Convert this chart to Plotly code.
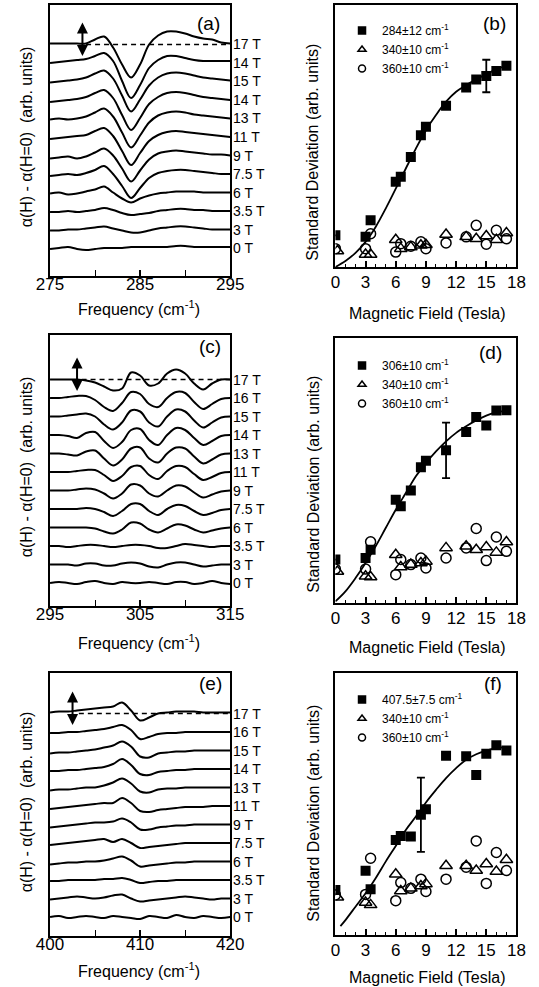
import plotly.graph_objects as go

W, H = 539, 987

# ---------------- spectra (left panels) ----------------
LABELS_A = ["17 T", "14 T", "15 T", "14 T", "13 T", "11 T", "9 T", "7.5 T", "6 T", "3.5 T", "3 T", "0 T"]
LABELS_CE = ["17 T", "16 T", "15 T", "14 T", "13 T", "11 T", "9 T", "7.5 T", "6 T", "3.5 T", "3 T", "0 T"]

FREQ_A = list(range(275, 296))
FREQ_C = list(range(295, 316))
FREQ_E = list(range(400, 421))

# deviations from each trace's own baseline (arb. units), top trace first
SPEC_A = [
    [1, 1, 1, 1, 1, 5, 8, -3, -20, -33, -20, 0, 9, 13, 13, 11, 8, 6, 5, 2, 1],
    [0, 1, 2, 3, 4, 7, 10, 2, -18, -35, -22, -5, 3, 7, 7, 5, 3, 2, 2, 2, 2],
    [-1, 0, 1, 2, 4, 8, 11, 3, -14, -30, -18, -4, 4, 8, 9, 8, 6, 4, 3, 2, 1],
    [-2, -1, 0, 1, 3, 7, 10, 2, -15, -30, -18, -4, 3, 7, 8, 7, 5, 3, 2, 1, 0],
    [-1, 0, -1, 0, 2, 6, 10, 2, -14, -29, -17, -4, 3, 6, 7, 6, 4, 3, 2, 1, 0],
    [-2, -1, 0, 1, 2, 6, 9, 1, -14, -28, -16, -4, 2, 5, 6, 5, 4, 3, 2, 1, 0],
    [-3, -2, -1, -3, -1, 3, 7, 0, -13, -26, -15, -4, 2, 4, 5, 4, 3, 2, 1, 1, 0],
    [-2, -1, 0, -1, 1, 4, 8, 0, -12, -24, -14, -4, 1, 3, 4, 4, 3, 2, 1, 0, 0],
    [-1, 0, -2, -1, 1, 3, 6, 0, -6, -10, -6, -3, -1, 0, 1, 1, 1, 0, 0, 0, 0],
    [-1, -1, 0, -1, 0, 1, 3, 1, -2, -4, -3, -2, 0, 1, 2, 2, 1, 1, 0, 0, 0],
    [-1, -1, 0, 0, 1, 2, 3, 1, -1, -3, -3, -1, 1, 2, 3, 3, 2, 1, 0, 0, 0],
    [-1, 0, 1, -1, -2, -1, 0, 0, 0, 1, 1, 1, 1, 1, 2, 2, 1, 1, 1, 1, 1],
]
SPEC_C = [
    [0, 0, 0, 0, -1, -3, -7, -11, -9, 7, 4, -6, -4, 6, 10, 6, -4, -10, -4, 0, 0],
    [0, 0, 1, 2, 2, -2, -9, -13, -5, 6, 4, -6, -9, 0, 6, 5, -4, -11, -6, -1, 0],
    [0, 0, 1, 2, 3, 0, -8, -13, -6, 6, 5, -6, -10, 0, 7, 5, -4, -11, -6, -1, 0],
    [0, 0, -1, -3, 2, 3, -6, -13, -7, 5, 6, -5, -10, 0, 7, 5, -3, -10, -6, -1, 0],
    [0, 0, -1, -2, 2, 3, -5, -12, -6, 5, 6, -5, -9, 0, 6, 5, -3, -10, -6, -1, 0],
    [0, 0, 0, 1, 2, 2, -3, -9, -4, 5, 6, -3, -7, 1, 6, 5, -2, -8, -5, -1, 0],
    [0, 0, 0, 1, 2, 1, -3, -8, -3, 6, 5, -3, -6, 0, 5, 4, -2, -7, -4, -1, 0],
    [0, 0, 0, 0, 1, 0, -3, -7, -2, 5, 5, -2, -6, 0, 4, 3, -2, -6, -4, -1, 0],
    [0, 0, 0, 0, 0, -1, -4, -6, -2, 5, 4, -2, -5, -1, 3, 2, -2, -5, -3, -1, 0],
    [0, 0, -1, 0, 1, 1, 0, -1, 0, 1, 1, 0, -2, -2, 0, 2, 1, 0, -1, 0, 0],
    [0, 0, 0, -1, 1, 1, -1, -1, 1, 2, 1, -2, -3, 0, 2, 2, 0, -2, -1, 0, 0],
    [0, 1, 0, -1, 1, 2, 0, -1, 1, 0, 0, 1, 0, -1, 1, 1, -1, 0, 2, 0, -1],
]
SPEC_E = [
    [1, 2, 2, 3, 4, 5, 6, 7, 11, 3, -7, -4, 0, 1, 2, 2, 2, 1, 1, 1, 1],
    [-1, -1, 0, 0, 1, 2, 3, 5, 7, 2, -7, -5, -2, -1, -1, 0, 0, 0, 0, 0, 0],
    [-3, -2, -2, -1, 0, 1, 3, 5, 9, 4, -6, -7, -3, -2, -1, -1, 0, 0, 0, 0, 0],
    [-2, -2, -1, -1, 0, 1, 2, 5, 10, 4, -5, -6, -3, -2, -1, -1, 0, 0, 0, 0, 0],
    [-3, -2, -2, -1, 0, 0, 2, 5, 9, 4, -4, -5, -2, -1, -1, 0, 0, 0, 0, 0, 0],
    [-3, -2, -1, 0, 1, 2, 3, 3, 8, 3, -5, -6, -4, -3, -2, -1, -1, -1, 0, 0, 0],
    [-3, -2, -1, 0, 1, 2, 2, 3, 6, 2, -5, -5, -3, -2, -1, -1, 0, 0, 0, 0, 0],
    [-2, -1, 0, 1, 2, 3, 4, 1, 4, 0, -5, -4, -3, -2, -1, 0, 0, 0, 0, 0, 0],
    [-3, -2, -1, -1, 0, 0, 1, 3, 5, 1, -5, -4, -3, -2, -1, -1, 0, 0, 0, 0, 0],
    [-1, -1, 0, 0, 0, 0, 1, 1, 2, 0, -3, -2, -1, -1, 0, 0, 0, 0, 0, 0, 0],
    [-1, 0, 1, 2, 1, 0, 1, 3, 4, 0, -3, -2, -1, 0, 1, 2, 1, 0, -1, 0, 0],
    [0, 1, -1, 0, 1, 0, -1, 1, 0, -1, -2, 1, 0, -1, 2, 0, -1, 1, 0, -1, 0],
]

# ---------------- standard deviation (right panels) ----------------
FIELD_SQ = [0, 3, 3.5, 6, 6.5, 7.5, 8.5, 9, 11, 13, 14, 15, 16, 17]
FIELD_TRI = [0.2, 3, 3.5, 6, 6.5, 7.5, 8.5, 9, 11, 13, 14, 15, 16, 17]
FIELD_CIR = [0, 3, 3.5, 6, 6.5, 7.5, 8.5, 9, 11, 13, 14, 15, 16, 17]
FIT_FIELD = [0, 1, 2, 3, 4, 5, 6, 7, 8, 9, 10, 11, 12, 13, 14, 15, 16, 17]
FIT_FIELD_F = [0.5, 1, 2, 3, 4, 5, 6, 7, 8, 9, 10, 11, 12, 13, 14, 15, 16, 17]

SQ_B = [12.1, 11.5, 17.8, 32.5, 34.4, 42.0, 50.3, 53.5, 61.5, 68.5, 71.6, 72.9, 74.8, 76.8]
ERR_B = [0, 0, 0, 0, 0, 0, 0, 0, 0, 0, 0, 6.2, 0, 0]
TRI_B = [6.1, 4.8, 4.8, 10.4, 7.0, 7.6, 8.3, 8.5, 12.4, 11.5, 10.8, 11.8, 10.4, 13.0]
CIR_B = [7.0, 7.0, 12.7, 5.7, 8.9, 7.9, 9.6, 7.0, 9.2, 11.5, 15.9, 8.7, 14.0, 10.8]
FIT_B = [0, 2.3, 5.4, 9.6, 15.3, 22.3, 29.9, 37.6, 45.2, 52.2, 58.0, 63.1, 66.9, 69.4, 71.6, 73.6, 75.4, 76.9]

SQ_D = [16.4, 17.0, 20.1, 39.0, 36.5, 42.5, 51.2, 53.7, 57.6, 64.5, 70.2, 67.0, 72.6, 72.7]
ERR_D = [0, 0, 0, 0, 0, 0, 0, 0, 10.5, 0, 0, 0, 0, 0]
TRI_D = [11.9, 10.1, 9.8, 18.2, 13.6, 14.5, 15.1, 15.7, 20.8, 21.4, 20.1, 21.1, 19.1, 23.0]
CIR_D = [12.8, 12.8, 23.1, 10.7, 16.4, 14.5, 17.0, 13.2, 17.0, 20.8, 28.1, 16.0, 24.9, 19.5]
FIT_D = [0.6, 4.4, 9.4, 15.1, 21.4, 28.3, 35.2, 41.5, 47.8, 52.8, 57.2, 61.0, 64.2, 66.7, 68.9, 70.7, 71.9, 72.7]

SQ_F = [17.2, 24.5, 17.5, 36.3, 37.8, 37.6, 45.9, 48.0, 68.4, 68.2, 61.1, 69.2, 72.4, 70.4]
ERR_F = [0, 0, 0, 0, 0, 0, 14.2, 0, 0, 0, 0, 0, 0, 0]
TRI_F = [14.4, 12.4, 11.5, 23.2, 16.8, 17.8, 18.7, 19.5, 26.4, 26.4, 24.6, 27.1, 24.2, 28.7]
CIR_F = [15.3, 15.5, 29.3, 13.1, 20.0, 17.8, 21.3, 16.6, 21.3, 25.9, 35.9, 19.7, 31.5, 24.6]
FIT_F = [3.4, 5.7, 10.8, 15.9, 21.7, 28.0, 34.0, 40.1, 45.2, 50.6, 55.4, 59.9, 63.7, 66.9, 69.0, 70.4, 71.3, 71.7]

LEGEND_B = ["284\u00b112 cm<sup>-1</sup>", "340\u00b110 cm<sup>-1</sup>", "360\u00b110 cm<sup>-1</sup>"]
LEGEND_D = ["306\u00b110 cm<sup>-1</sup>", "340\u00b110 cm<sup>-1</sup>", "360\u00b110 cm<sup>-1</sup>"]
LEGEND_F = ["407.5\u00b17.5 cm<sup>-1</sup>", "340\u00b110 cm<sup>-1</sup>", "360\u00b110 cm<sup>-1</sup>"]

# ---------------- layout constants ----------------
FONT = "Liberation Sans, Arial, Helvetica, sans-serif"
STEP = 18.5  # vertical offset between stacked spectra
N = 12


def px(x):
    return x / W


def py(y):
    return 1 - y / H


X_LEFT = [px(38), px(228)]
X_RIGHT = [px(339), px(530)]
PANELS = {
    "a": dict(xd=X_LEFT, yd=[py(276), py(5)]),
    "b": dict(xd=X_RIGHT, yd=[py(267), py(5)]),
    "c": dict(xd=X_LEFT, yd=[py(606), py(335)]),
    "d": dict(xd=X_RIGHT, yd=[py(603), py(338)]),
    "e": dict(xd=X_LEFT, yd=[py(936), py(673)]),
    "f": dict(xd=X_RIGHT, yd=[py(935), py(673)]),
}

fig = go.Figure()
annotations = []


def axn(i, letter):
    return letter if i == 1 else f"{letter}{i}"


def spectra_panel(i, freq, spec, labels, arrow_x, dash_start):
    xa, ya = axn(i, "x"), axn(i, "y")
    top_base = (N - 1) * STEP
    fig.add_trace(go.Scatter(x=[dash_start, freq[-1]], y=[top_base, top_base], mode="lines",
                             line=dict(color="black", width=1.6, dash="5px,4px"),
                             xaxis=xa, yaxis=ya, showlegend=False, hoverinfo="skip"))
    for k, dev in enumerate(spec):
        base = (N - 1 - k) * STEP
        fig.add_trace(go.Scatter(x=freq, y=[base + d for d in dev], mode="lines",
                                 line=dict(color="black", width=2, shape="spline", smoothing=1.0),
                                 xaxis=xa, yaxis=ya, showlegend=False, hoverinfo="skip"))
        annotations.append(dict(x=1.0, xref=f"{xa} domain", y=base, yref=ya, text=labels[k],
                                xanchor="left", yanchor="middle", xshift=1, showarrow=False,
                                font=dict(size=14, color="black", family=FONT)))
    annotations.append(dict(x=arrow_x, y=top_base + 22, ax=arrow_x, ay=top_base - 13,
                            xref=xa, yref=ya, axref=xa, ayref=ya, text="", showarrow=True,
                            arrowhead=2, arrowsize=1.1, arrowwidth=2, arrowside="end+start",
                            arrowcolor="black", standoff=0, startstandoff=0))


def minor_len(i):
    return 6 if i in (1, 3, 5) else 3


def set_axes(i, xd, yd, xrange, yrange, tickvals, minor_vals, standoff):
    xk = "xaxis" if i == 1 else f"xaxis{i}"
    yk = "yaxis" if i == 1 else f"yaxis{i}"
    fig.layout[xk] = dict(domain=xd, range=xrange, anchor=axn(i, "y"), showline=True, mirror=True,
                          linecolor="black", linewidth=2, ticks="inside", ticklen=6, tickwidth=1.5,
                          tickcolor="black", tickmode="array", tickvals=tickvals, showgrid=False,
                          zeroline=False, tickfont=dict(size=17, color="black", family=FONT),
                          ticklabelstandoff=standoff,
                          minor=dict(tickmode="array", tickvals=minor_vals, ticks="inside",
                                     ticklen=minor_len(i), tickwidth=1.3, tickcolor="black",
                                     showgrid=False))
    fig.layout[yk] = dict(domain=yd, range=yrange, anchor=axn(i, "x"), showline=True,
                          mirror=True, linecolor="black", linewidth=2, ticks="",
                          showticklabels=False, showgrid=False, zeroline=False)


spectra_panel(1, FREQ_A, SPEC_A, LABELS_A, 278.6, 279.0)
spectra_panel(3, FREQ_C, SPEC_C, LABELS_CE, 298.0, 298.5)
spectra_panel(5, FREQ_E, SPEC_E, LABELS_CE, 402.5, 403.2)
set_axes(1, PANELS["a"]["xd"], PANELS["a"]["yd"], [275, 295], [-28, 243], [275, 285, 295], [280, 290], -8)
set_axes(3, PANELS["c"]["xd"], PANELS["c"]["yd"], [295, 315], [-23, 248], [295, 305, 315], [300, 310], -8)
set_axes(5, PANELS["e"]["xd"], PANELS["e"]["yd"], [400, 420], [-19, 244], [400, 410, 420], [405, 415], -8)


def sd_panel(i, legend_name, sq, err, tri, cir, fit_x, fit_y, names):
    xa, ya = axn(i, "x"), axn(i, "y")
    fig.add_trace(go.Scatter(x=fit_x, y=fit_y, mode="lines",
                             line=dict(color="black", width=1.8, shape="spline"),
                             xaxis=xa, yaxis=ya, showlegend=False, hoverinfo="skip"))
    fig.add_trace(go.Scatter(x=FIELD_TRI, y=tri, mode="markers",
                             marker=dict(symbol="triangle-up-open", size=11, color="black",
                                         line=dict(width=1.5, color="black")),
                             xaxis=xa, yaxis=ya, showlegend=False))
    fig.add_trace(go.Scatter(x=FIELD_CIR, y=cir, mode="markers",
                             marker=dict(symbol="circle-open", size=10, color="black",
                                         line=dict(width=1.5, color="black")),
                             xaxis=xa, yaxis=ya, showlegend=False))
    fig.add_trace(go.Scatter(x=FIELD_SQ, y=sq, mode="markers",
                             marker=dict(symbol="square", size=10, color="black"),
                             error_y=dict(type="data", array=err, visible=True, color="black",
                                          thickness=1.8, width=4),
                             xaxis=xa, yaxis=ya, showlegend=False))
    for sym, nm in zip(["square", "triangle-up-open", "circle-open"], names):
        fig.add_trace(go.Scatter(x=[None], y=[None], mode="markers", name=nm,
                                 marker=dict(symbol=sym, size=7, color="black",
                                             line=dict(width=1.5, color="black")),
                                 xaxis=xa, yaxis=ya, legend=legend_name, showlegend=True))


sd_panel(2, "legend", SQ_B, ERR_B, TRI_B, CIR_B, FIT_FIELD, FIT_B, LEGEND_B)
sd_panel(4, "legend2", SQ_D, ERR_D, TRI_D, CIR_D, FIT_FIELD, FIT_D, LEGEND_D)
sd_panel(6, "legend3", SQ_F, ERR_F, TRI_F, CIR_F, FIT_FIELD_F, FIT_F, LEGEND_F)
for i, p in [(2, "b"), (4, "d"), (6, "f")]:
    set_axes(i, PANELS[p]["xd"], PANELS[p]["yd"], [0, 18], [0, 100],
             [0, 3, 6, 9, 12, 15, 18], [1, 2, 4, 5, 7, 8, 10, 11, 13, 14, 16, 17], -1)

for txt, x, y in [("(a)", 205, 23), ("(b)", 507, 23), ("(c)", 207, 346),
                  ("(d)", 503, 353), ("(e)", 207, 683), ("(f)", 505, 683)]:
    annotations.append(dict(x=px(x), y=py(y), xref="paper", yref="paper", text=txt,
                            showarrow=False, xanchor="center", yanchor="middle",
                            font=dict(size=19, color="black", family=FONT)))

YT_LEFT = "\u03b1(H) - \u03b1(H=0)\u00a0\u00a0(arb. units)"
YT_RIGHT = "Standard Deviation (arb. units)"
XT_LEFT = "Frequency (cm<sup>-1</sup>)"
XT_RIGHT = "Magnetic Field (Tesla)"
for txt, x, y, ang in [(YT_LEFT, 13, 137, -90), (YT_LEFT, 13, 467, -90), (YT_LEFT, 13, 802, -90),
                       (YT_RIGHT, 315, 152, -90), (YT_RIGHT, 315, 484, -90), (YT_RIGHT, 315, 813, -90),
                       (XT_LEFT, 132, 308, 0), (XT_LEFT, 132, 642, 0), (XT_LEFT, 132, 970, 0),
                       (XT_RIGHT, 436, 313, 0), (XT_RIGHT, 436, 647, 0), (XT_RIGHT, 436, 977, 0)]:
    annotations.append(dict(x=px(x), y=py(y), xref="paper", yref="paper", text=txt,
                            showarrow=False, xanchor="center", yanchor="middle", textangle=ang,
                            font=dict(size=16, color="black", family=FONT)))

leg_common = dict(xanchor="left", yanchor="top", bgcolor="rgba(0,0,0,0)",
                  font=dict(size=12, color="black", family=FONT), itemwidth=30, tracegroupgap=0)
fig.update_layout(
    width=W, height=H, margin=dict(l=0, r=0, t=0, b=0),
    paper_bgcolor="white", plot_bgcolor="white",
    font=dict(family=FONT, color="black"),
    showlegend=True,
    legend=dict(x=px(346), y=py(16), **leg_common),
    legend2=dict(x=px(346), y=py(351), **leg_common),
    legend3=dict(x=px(346), y=py(685), **leg_common),
    annotations=annotations,
)

fig.write_html("out.html")
